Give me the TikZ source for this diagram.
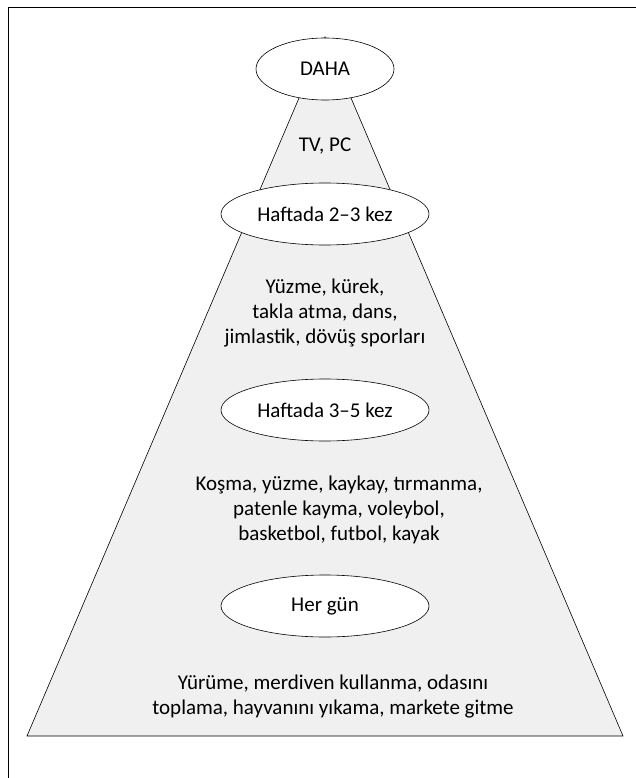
\documentclass[tikz,border=0pt]{standalone}
\usepackage{fontspec}
\setmainfont{Carlito}
\usetikzlibrary{shapes.geometric,positioning}
\tikzset{
  font=\fontsize{21}{25}\selectfont,
  lvl/.style  ={draw, ellipse, fill=white, inner sep=0pt, minimum width=208pt, minimum height=62pt, line width=0.6pt},
  top/.style  ={lvl, minimum width=138pt, minimum height=62pt},
  txt/.style  ={align=center, inner sep=0pt},
  pyr/.style  ={draw, fill=black!6, line width=0.6pt},
}

\begin{document}
\begin{tikzpicture}[x=1pt,y=-1pt]
  \useasboundingbox (0,0) rectangle (636,778);
  % frame
  \draw[line width=0.8pt] (8,778) -- (8,7) -- (636,7);

  \coordinate (apex) at (325,37);
  \coordinate (bl) at (27,736);
  \coordinate (br) at (623,736);
  \path[pyr] (apex) -- (br) -- (bl) -- cycle;

  \node[top] (daha) at (325,69) {DAHA};
  \node[txt] (tvpc) at (325,146) {TV, PC};
  \node[lvl] (h23) at (325,214) {Haftada 2--3 kez};
  \node[txt] (grp1) at (325,313) {Yüzme, kürek,\\takla atma, dans,\\jimlastik, dövüş sporları};
  \node[lvl] (h35) at (325,410) {Haftada 3--5 kez};
  \node[txt] (grp2) at (339,510) {Koşma, yüzme, kaykay, tırmanma,\\patenle kayma, voleybol,\\basketbol, futbol, kayak};
  \node[lvl] (hergun) at (325,606) {Her gün};
  \node[txt] (grp3) at (333,697) {Yürüme, merdiven kullanma, odasını\\toplama, hayvanını yıkama, markete gitme};
\end{tikzpicture}
\end{document}
